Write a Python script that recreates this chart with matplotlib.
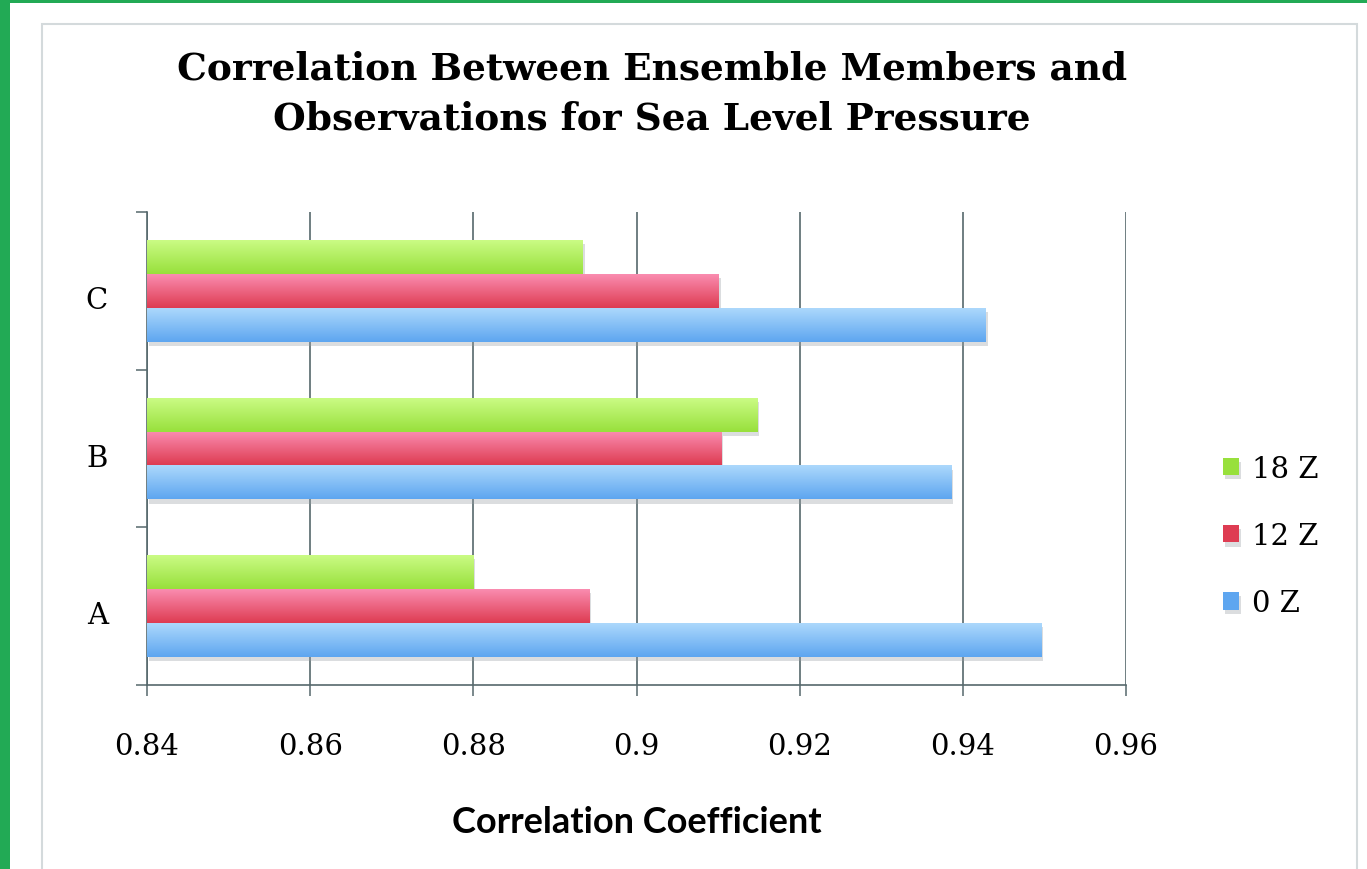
import numpy as np
import matplotlib
matplotlib.use('Agg')
import matplotlib.pyplot as plt
from matplotlib.patches import Rectangle
from matplotlib import patheffects as pe

categories = ["A", "B", "C"]
series_names = ["18 Z", "12 Z", "0 Z"]
vals_18z = [0.8800, 0.9148, 0.8934]
vals_12z = [0.8942, 0.9104, 0.9101]
vals_0z = [0.9496, 0.9386, 0.9428]
x_ticks = [0.84, 0.86, 0.88, 0.9, 0.92, 0.94, 0.96]
x_ticklabels = ["0.84", "0.86", "0.88", "0.9", "0.92", "0.94", "0.96"]

# top / bottom colours for the gradient fill of each series
grads = {
	"18 Z": ("#cafb84", "#98e03c"),
	"12 Z": ("#fa8cb0", "#de3c52"),
	"0 Z": ("#acd8fc", "#5ea6f0"),
}
grid_col = "#56686c"

fig = plt.figure(figsize=(13.67, 8.70), dpi=100)
fig.patch.set_facecolor("#22aa55")
# white page + light chart-area frame
fig.add_artist(Rectangle((10/1367, 0), 1, 1 - 4/870, transform=fig.transFigure,
	facecolor="white", edgecolor="none", zorder=-10))
fig.add_artist(Rectangle((42/1367, -0.1), (1357-42)/1367, 1.1 - 25/870, transform=fig.transFigure,
	facecolor="white", edgecolor="#d4dadc", linewidth=1.5, zorder=-9))

ax = fig.add_axes([147/1367, 1 - 686/870, (1126-147)/1367, (686-213)/870])
ax.set_facecolor("none")

y = np.arange(len(categories))
h = 0.215
data = [vals_18z, vals_12z, vals_0z]
offsets = [h, 0, -h]
bars_all = []
for name, vals, off in zip(series_names, data, offsets):
	bars = ax.barh(y + off, np.array(vals) - 0.84, left=0.84, height=h,
		color=grads[name][1], edgecolor="none", label=name, zorder=3)
	bars_all.append((name, bars))

# gradient overlay + soft shadow
grad = np.linspace(0, 1, 64).reshape(-1, 1)
for name, bars in bars_all:
	c0 = np.array(matplotlib.colors.to_rgb(grads[name][0]))
	c1 = np.array(matplotlib.colors.to_rgb(grads[name][1]))
	img = c0[None, None, :] * (1 - grad[..., None]) + c1[None, None, :] * grad[..., None]
	for b in bars:
		b.set_path_effects([pe.SimplePatchShadow(offset=(1.5, -3), shadow_rgbFace="#9aa0a4", alpha=0.35), pe.Normal()])
		x0, y0 = b.get_x(), b.get_y()
		w, hh = b.get_width(), b.get_height()
		im = ax.imshow(img, extent=(x0, x0 + w, y0, y0 + hh), origin="upper",
			aspect="auto", zorder=4, interpolation="bilinear")
		im.set_clip_path(b)

ax.set_xlim(0.84, 0.96)
ax.set_ylim(-0.5, 2.5)

ax.set_xticks(x_ticks)
ax.set_xticklabels(x_ticklabels, family="DejaVu Serif", fontsize=21)
ax.set_yticks(y - 0.04)
ax.set_yticklabels(categories, family="DejaVu Serif", fontsize=21)
ax.set_yticks([-0.5, 0.5, 1.5, 2.5], minor=True)
ax.tick_params(axis="y", which="major", length=0, pad=28)
ax.tick_params(axis="y", which="minor", length=8, width=1.1, color=grid_col, direction="out")
ax.tick_params(axis="x", which="major", length=8, width=1.1, color=grid_col, direction="out", pad=26)

ax.grid(axis="x", color=grid_col, linewidth=1.2, zorder=0)
ax.set_axisbelow(True)
for s in ["top", "right"]:
	ax.spines[s].set_visible(False)
for s in ["left", "bottom"]:
	ax.spines[s].set_color(grid_col)
	ax.spines[s].set_linewidth(1.2)

ax.set_xlabel("Correlation Coefficient", family="Lato", fontweight="bold", fontsize=26, labelpad=32)

fig.text(652/1367, 1 - 94/870, "Correlation Between Ensemble Members and\nObservations for Sea Level Pressure",
	ha="center", va="center", family="DejaVu Serif", fontweight="bold", fontsize=27, linespacing=1.45)

handles = [b for _, b in bars_all]
leg = ax.legend(handles, series_names, loc="center left", bbox_to_anchor=(1197/1367, 1 - 537/870),
	bbox_transform=fig.transFigure, frameon=False, prop={"family": "DejaVu Serif", "size": 21},
	handlelength=0.55, handleheight=0.55, handletextpad=0.45, labelspacing=1.35)

fig.savefig("out.png", dpi=100)
